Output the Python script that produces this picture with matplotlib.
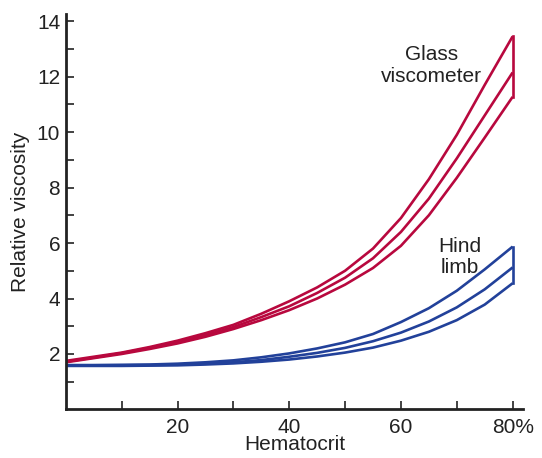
import matplotlib.pyplot as plt
import numpy as np

plt.rcParams['font.family'] = ['Liberation Sans', 'DejaVu Sans']

# Hematocrit (%) y viscosidad relativa
hematocrit = [0, 5, 10, 15, 20, 25, 30, 35, 40, 45, 50, 55, 60, 65, 70, 75, 80]

glass_top = [1.75, 1.90, 2.05, 2.25, 2.48, 2.75, 3.05, 3.45, 3.90, 4.40, 5.00,
             5.80, 6.90, 8.30, 9.90, 11.70, 13.45]
glass_mid = [1.72, 1.87, 2.03, 2.22, 2.43, 2.68, 2.97, 3.33, 3.72, 4.20, 4.75,
             5.45, 6.40, 7.60, 9.05, 10.60, 12.15]
glass_low = [1.70, 1.85, 2.00, 2.18, 2.38, 2.62, 2.90, 3.22, 3.58, 4.00, 4.50,
             5.10, 5.90, 7.00, 8.35, 9.80, 11.27]

limb_top = [1.60, 1.60, 1.61, 1.62, 1.65, 1.70, 1.77, 1.88, 2.02, 2.20, 2.42,
            2.72, 3.15, 3.65, 4.28, 5.05, 5.87]
limb_mid = [1.58, 1.58, 1.59, 1.60, 1.62, 1.65, 1.70, 1.78, 1.90, 2.04, 2.22,
            2.46, 2.77, 3.17, 3.68, 4.33, 5.12]
limb_low = [1.57, 1.57, 1.57, 1.58, 1.59, 1.62, 1.66, 1.72, 1.80, 1.91, 2.05,
            2.23, 2.48, 2.80, 3.22, 3.78, 4.55]

x_ticks = [10, 20, 30, 40, 50, 60, 70, 80]
x_labels = ['', '20', '', '40', '', '60', '', '80%']
y_ticks = list(range(1, 15))
y_labels = [str(v) if v % 2 == 0 else '' for v in y_ticks]

red = '#b8083e'
blue = '#22419a'
txt = '#222222'

fig = plt.figure(figsize=(5.42, 4.58), dpi=100)
ax = fig.add_axes([0.1214, 0.106, 0.844, 0.863])

for serie in (glass_top, glass_mid, glass_low):
    ax.plot(hematocrit, serie, color=red, lw=1.9, solid_capstyle='butt')
ax.plot([80, 80], [glass_low[-1], glass_top[-1]], color=red, lw=1.9)

for serie in (limb_top, limb_mid, limb_low):
    ax.plot(hematocrit, serie, color=blue, lw=1.9, solid_capstyle='butt')
ax.plot([80, 80], [limb_low[-1], limb_top[-1]], color=blue, lw=1.9)

ax.text(65.4, 12.4, 'Glass\nviscometer', ha='center', va='center',
        fontsize=15, color=txt, linespacing=1.15)
ax.text(70.6, 5.5, 'Hind\nlimb', ha='center', va='center',
        fontsize=15, color=txt, linespacing=1.15)

ax.set_xlim(0, 81.9)
ax.set_ylim(0, 14.25)
ax.set_xticks(x_ticks)
ax.set_xticklabels(x_labels)
ax.set_yticks(y_ticks)
ax.set_yticklabels(y_labels)
ax.tick_params(direction='in', length=6, width=1.2, labelsize=15,
               colors=txt, pad=4)
ax.tick_params(axis='x', pad=6)

for lado in ('top', 'right'):
    ax.spines[lado].set_visible(False)
for lado in ('left', 'bottom'):
    ax.spines[lado].set_linewidth(2)
    ax.spines[lado].set_color(txt)

ax.set_xlabel('Hematocrit', fontsize=15, color=txt, labelpad=-1)
ax.set_ylabel('Relative viscosity', fontsize=15, color=txt, labelpad=5)

fig.savefig('out.png', dpi=100)
